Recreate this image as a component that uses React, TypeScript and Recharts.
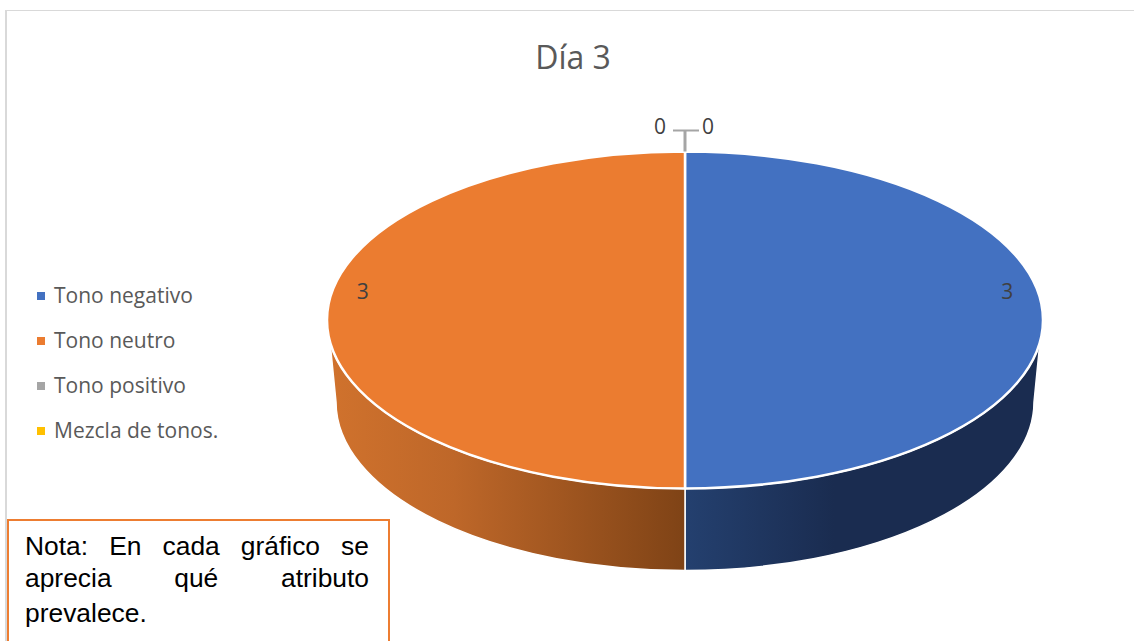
import React from 'react';
import { PieChart, Pie, Cell, Legend } from 'recharts';

const categories = ['Tono negativo', 'Tono neutro', 'Tono positivo', 'Mezcla de tonos.'];
const values = [3, 3, 0, 0];
const colors = ['#4371C1', '#EB7C30', '#A5A5A5', '#FFC000'];
const wallGradients = ['url(#wallBlue)', 'url(#wallOrange)', 'none', 'none'];

const data = categories.map((name, i) => ({ name, value: values[i], wall: wallGradients[i] }));

const CX = 685;
const CY = 320;
const RADIUS = 358;
const SQUASH = 168.5 / 358; // pie tilt: vertical radius / horizontal radius
const DEPTH = 82;
const BOTTOM_RX = 349; // bottom of the slab is a bit narrower (perspective)
const RIM_ANGLE = 7.5; // where the wall leaves the top ellipse

const rad = (deg: number) => (deg * Math.PI) / 180;

// Recharts hands us a round sector, flatten it and add the 3D wall
const TiltedSector = (props: any) => {
  const { cx, cy, outerRadius, startAngle, endAngle, fill, wall } = props;
  if (startAngle === endAngle) return null;
  const rx = outerRadius;
  const ry = outerRadius * SQUASH;
  const pt = (a: number) => `${cx + rx * Math.cos(rad(a))} ${cy - ry * Math.sin(rad(a))}`;
  const large = Math.abs(startAngle - endAngle) > 180 ? 1 : 0;
  const face = `M ${cx} ${cy} L ${pt(startAngle)} A ${rx} ${ry} 0 ${large} 1 ${pt(endAngle)} Z`;

  const side = Math.cos(rad((startAngle + endAngle) / 2)) > 0 ? 1 : -1;
  const rim = side > 0 ? -RIM_ANGLE : -180 + RIM_ANGLE;
  const cy2 = cy + DEPTH;
  const sweepTop = side > 0 ? 0 : 1;
  const sweepBottom = side > 0 ? 1 : 0;
  const wallPath = [
    `M ${cx} ${cy + ry}`,
    `A ${rx} ${ry} 0 0 ${sweepTop} ${pt(rim)}`,
    `L ${cx + side * BOTTOM_RX} ${cy2}`,
    `A ${BOTTOM_RX} ${ry} 0 0 ${sweepBottom} ${cx} ${cy2 + ry}`,
    'Z',
  ].join(' ');

  return (
    <g>
      <path d={wallPath} fill={wall} stroke="#fff" strokeWidth={1.5} strokeLinejoin="round" />
      <path d={face} fill={fill} stroke="#fff" strokeWidth={2.5} strokeLinejoin="round" />
    </g>
  );
};

const renderLabel = (props: any) => {
  const { cx, cy, outerRadius, midAngle, value, index } = props;
  const textStyle = { fontFamily: 'Open Sans', fontSize: 21, fill: '#404040' };
  if (value > 0) {
    const x = cx + outerRadius * 0.9 * Math.cos(rad(midAngle));
    return (
      <text x={x} y={cy - 29} textAnchor="middle" dominantBaseline="central" style={textStyle}>
        {value}
      </text>
    );
  }
  const top = cy - outerRadius * SQUASH;
  const left = index === 2;
  return (
    <g>
      {left && (
        <g fill="none" stroke="#A5A5A5">
          <path d={`M ${cx} ${top} L ${cx} ${top - 21}`} strokeWidth={3} />
          <path d={`M ${cx - 12} ${top - 21} L ${cx + 14} ${top - 21}`} strokeWidth={2} />
        </g>
      )}
      <text
        x={cx + (left ? -25 : 23)}
        y={top - 26}
        textAnchor="middle"
        dominantBaseline="central"
        style={textStyle}
      >
        {value}
      </text>
    </g>
  );
};

const renderLegend = (props: any) => (
  <div style={{ fontFamily: 'Open Sans', fontSize: 21, color: '#595959' }}>
    {(props.payload || []).map((entry: any) => (
      <div key={entry.value} style={{ height: 45, lineHeight: '45px', whiteSpace: 'nowrap', position: 'relative', paddingLeft: 17 }}>
        <span style={{ position: 'absolute', left: 0, top: 19, width: 8, height: 8, background: entry.color }} />
        {entry.value}
      </div>
    ))}
  </div>
);

export default function App() {
  return (
    <div style={{ position: 'absolute', left: 0, top: 0, width: 1134, height: 641, overflow: 'hidden', background: '#fff' }}>
      <div style={{ position: 'absolute', left: 5, top: 10, right: 0, height: 640, borderTop: '1px solid #D9D9D9', borderLeft: '2px solid #D9D9D9' }} />
      <div style={{ position: 'absolute', left: 0, top: 0 }}>
        <PieChart width={1134} height={641} margin={{ top: 0, right: 0, bottom: 0, left: 0 }}>
          <defs>
            <linearGradient id="wallOrange" x1="0" y1="0" x2="1" y2="0">
              <stop offset="0" stopColor="#D0722D" />
              <stop offset="0.35" stopColor="#BE6729" />
              <stop offset="1" stopColor="#7F4316" />
            </linearGradient>
            <linearGradient id="wallBlue" x1="0" y1="0" x2="1" y2="0">
              <stop offset="0" stopColor="#24406F" />
              <stop offset="0.42" stopColor="#1A2C50" />
              <stop offset="1" stopColor="#1A2C50" />
            </linearGradient>
          </defs>
          <text
            x={573}
            y={56}
            textAnchor="middle"
            dominantBaseline="central"
            style={{ fontFamily: 'Open Sans', fontSize: 32, fill: '#595959' }}
          >
            Día 3
          </text>
          <Pie
            data={data}
            dataKey="value"
            nameKey="name"
            cx={CX}
            cy={CY}
            outerRadius={RADIUS}
            startAngle={90}
            endAngle={-270}
            isAnimationActive={false}
            shape={TiltedSector}
            label={renderLabel}
            labelLine={false}
          >
            {data.map((entry, index) => (
              <Cell key={`cell-${index}`} fill={colors[index]} />
            ))}
          </Pie>
          <Legend
            layout="vertical"
            content={renderLegend}
            itemSorter={null}
            wrapperStyle={{ left: 37, top: 273, width: 260, bottom: 'auto' }}
          />
        </PieChart>
      </div>
      <div
        style={{
          position: 'absolute',
          left: 7,
          top: 519,
          width: 379,
          height: 130,
          border: '2px solid #ED7D31',
          background: '#fff',
          boxSizing: 'content-box',
          fontFamily: 'Liberation Sans',
          fontSize: 26.4,
          color: '#000',
        }}
      >
        <div style={{ position: 'absolute', left: 16, top: 9, width: 344, lineHeight: '32px' }}>
          <div style={{ textAlign: 'justify', textAlignLast: 'justify' }}>Nota: En cada gráfico se</div>
          <div style={{ textAlign: 'justify', textAlignLast: 'justify' }}>aprecia qué atributo</div>
          <div style={{ marginTop: 3 }}>prevalece.</div>
        </div>
      </div>
    </div>
  );
}
